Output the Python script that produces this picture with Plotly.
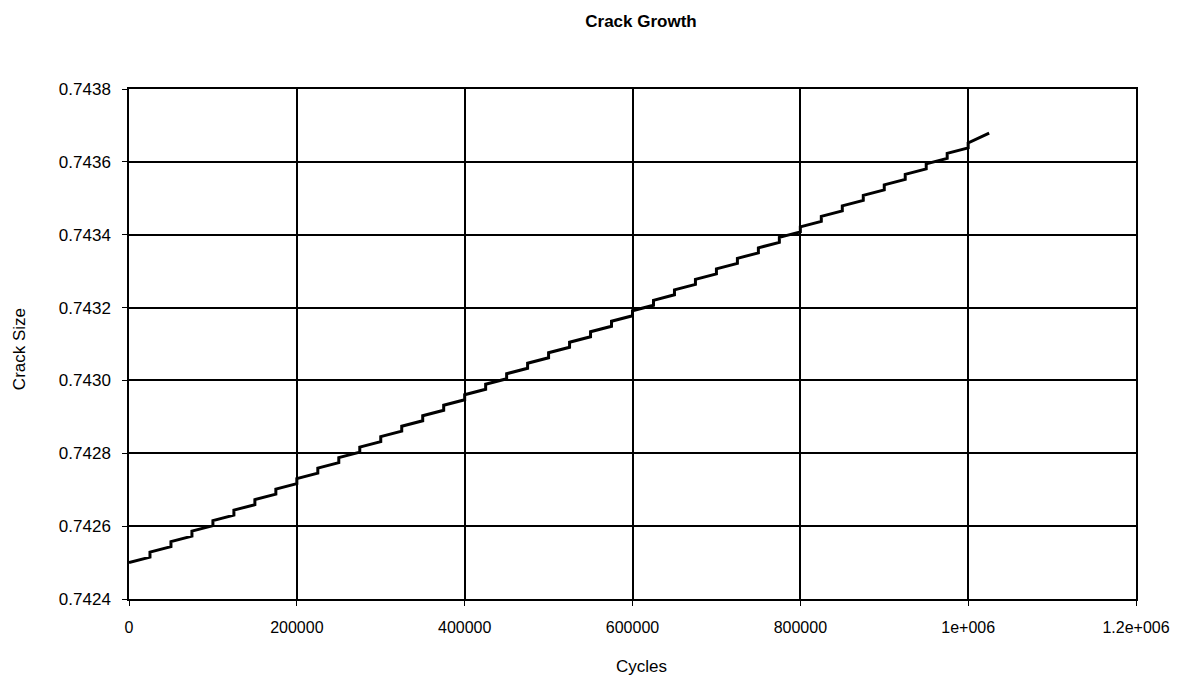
import plotly.graph_objects as go

# Block boundaries (cycles) and crack size at the start / end of each block
block_start = [0, 25000, 50000, 75000, 100000, 125000, 150000, 175000, 200000, 225000,
               250000, 275000, 300000, 325000, 350000, 375000, 400000, 425000, 450000, 475000,
               500000, 525000, 550000, 575000, 600000, 625000, 650000, 675000, 700000, 725000,
               750000, 775000, 800000, 825000, 850000, 875000, 900000, 925000, 950000, 975000,
               1000000]
block_end = block_start[1:] + [1025000]
crack_start = [0.7425000, 0.7425288, 0.7425576, 0.7425864, 0.7426152, 0.7426440, 0.7426728,
               0.7427016, 0.7427304, 0.7427592, 0.7427880, 0.7428168, 0.7428456, 0.7428744,
               0.7429032, 0.7429320, 0.7429608, 0.7429896, 0.7430184, 0.7430472, 0.7430760,
               0.7431048, 0.7431336, 0.7431624, 0.7431912, 0.7432200, 0.7432488, 0.7432776,
               0.7433064, 0.7433352, 0.7433640, 0.7433928, 0.7434216, 0.7434504, 0.7434792,
               0.7435080, 0.7435368, 0.7435656, 0.7435944, 0.7436232, 0.7436520]
crack_end = [0.7425150, 0.7425438, 0.7425726, 0.7426014, 0.7426302, 0.7426590, 0.7426878,
             0.7427166, 0.7427454, 0.7427742, 0.7428030, 0.7428318, 0.7428606, 0.7428894,
             0.7429182, 0.7429470, 0.7429758, 0.7430046, 0.7430334, 0.7430622, 0.7430910,
             0.7431198, 0.7431486, 0.7431774, 0.7432062, 0.7432350, 0.7432638, 0.7432926,
             0.7433214, 0.7433502, 0.7433790, 0.7434078, 0.7434366, 0.7434654, 0.7434942,
             0.7435230, 0.7435518, 0.7435806, 0.7436094, 0.7436382, 0.7436790]

x_ticks = [0, 200000, 400000, 600000, 800000, 1000000, 1200000]
x_labels = ["0", "200000", "400000", "600000", "800000", "1e+006", "1.2e+006"]
y_ticks = [0.7424, 0.7426, 0.7428, 0.7430, 0.7432, 0.7434, 0.7436, 0.7438]
y_labels = ["0.7424", "0.7426", "0.7428", "0.7430", "0.7432", "0.7434", "0.7436", "0.7438"]

xs, ys = [], []
for s, e, a, b in zip(block_start, block_end, crack_start, crack_end):
    xs += [s, e]
    ys += [a, b]

fig = go.Figure(go.Scatter(x=xs, y=ys, mode="lines",
                           line=dict(color="black", width=3), showlegend=False))

font = "Liberation Sans, Arial, sans-serif"
fig.update_layout(
    width=1178, height=682,
    margin=dict(l=121, r=50, t=81, b=91),
    paper_bgcolor="white", plot_bgcolor="white",
    font=dict(family=font, size=17, color="black"),
    title=dict(text="<b>Crack Growth</b>", x=633/1178, xanchor="center",
               y=1 - 13/682, yanchor="middle", font=dict(size=17, family=font)),
    xaxis=dict(range=[0, 1200000], tickvals=x_ticks, ticktext=x_labels,
               showgrid=True, gridcolor="black", gridwidth=1.5,
               showline=True, linecolor="black", linewidth=1.5, mirror=True,
               ticks="outside", ticklen=5, tickcolor="black", zeroline=False,
               ticklabelstandoff=8, tickfont=dict(size=16), automargin=False),
    yaxis=dict(range=[0.7424, 0.7438], tickvals=y_ticks, ticktext=y_labels,
               showgrid=True, gridcolor="black", gridwidth=1.5,
               showline=True, linecolor="black", linewidth=1.5, mirror=True,
               ticks="outside", ticklen=5, tickcolor="black", zeroline=False,
               ticklabelstandoff=8, tickfont=dict(size=17), automargin=False),
    annotations=[
        dict(text="Cycles", xref="paper", yref="paper", x=0.5085, y=-0.1333,
             xanchor="center", yanchor="middle", showarrow=False,
             font=dict(size=17)),
        dict(text="Crack Size", xref="paper", yref="paper", x=-0.1092, y=0.49,
             xanchor="center", yanchor="middle", showarrow=False, textangle=-90,
             font=dict(size=17)),
    ],
)

fig.write_html("out.html")
